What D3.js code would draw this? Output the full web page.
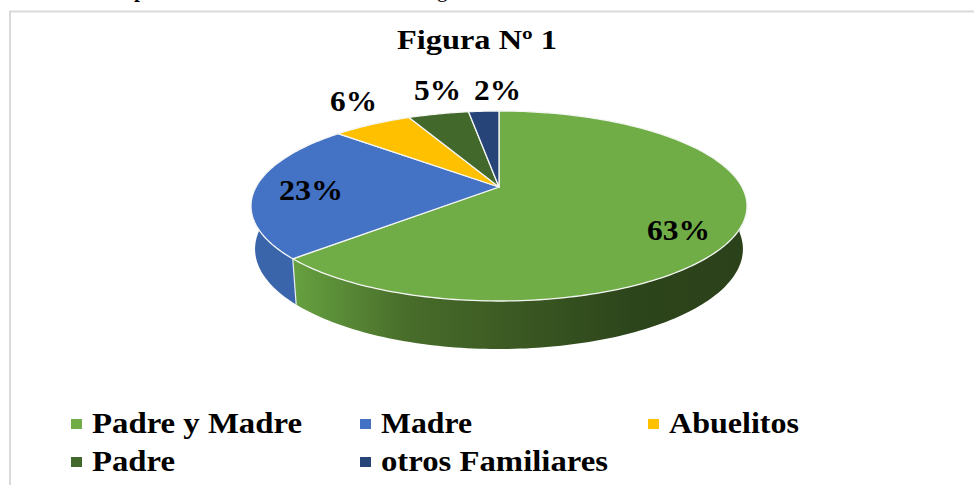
<!DOCTYPE html>
<html>
<head>
<meta charset="utf-8">
<script src="https://cdn.jsdelivr.net/npm/d3@7"></script>
<style>
    html, body { margin: 0; padding: 0; background: #fff; overflow: hidden; }
    text { font-family: "Liberation Serif", serif; font-weight: bold; fill: #000; }
</style>
</head>
<body>
<div id="content"></div>
<script>
const categories = ["Padre y Madre", "Madre", "Abuelitos", "Padre", "otros Familiares"];
const values = [63.1, 23.4, 6.3, 4.8, 2.4];
const colors = ["#70ad47", "#4472c4", "#ffc000", "#43682b", "#264478"];
const title = "Figura Nº 1";

const width = 974;
const height = 485;

// perspective of the tilted disc: k is the foreshortening, apex is where the slices meet
const k = 0.2;
const topFace = { x: 499, y: 187, rx: 243, ry: 91.2 };
const bottomFace = { x: 499, y: 229, rx: 239, ry: 96 };

function project(face, angle, r) {
    const u = Math.sin(angle) * r;
    const v = -Math.cos(angle) * r;
    const w = 1 - k * v;
    return [face.x + face.rx * u / w, face.y + face.ry * v / w];
}

function sample(a0, a1) {
    const n = Math.max(2, Math.ceil(Math.abs(a1 - a0) / 0.02));
    return d3.range(n + 1).map(i => a0 + (a1 - a0) * i / n);
}

const line = d3.line();

const svg = d3.select("#content")
    .append("svg")
    .attr("width", width)
    .attr("height", height)
    .style("display", "block");

const defs = svg.append("defs");
const wallGreen = defs.append("linearGradient")
    .attr("id", "wallGreen")
    .attr("gradientUnits", "userSpaceOnUse")
    .attr("x1", 297).attr("x2", 745).attr("y1", 0).attr("y2", 0);
[[0, "#659f3f"], [0.25, "#486c2a"], [0.5, "#3a5822"], [0.75, "#2d451b"], [1, "#2b411a"]].forEach(s => {
    wallGreen.append("stop").attr("offset", s[0]).attr("stop-color", s[1]);
});

// frame of the pasted chart
svg.append("path")
    .attr("d", "M10,485V11.5H974")
    .attr("fill", "none")
    .attr("stroke", "#d9d9d9")
    .attr("stroke-width", 2);

// what is left of the caption line above the chart
svg.append("text").attr("x", 134).attr("y", -3).style("font-size", "21px").text("p");
svg.append("text").attr("x", 437).attr("y", -3).style("font-size", "21px").style("font-weight", "normal").text("g");

svg.append("text")
    .attr("x", 397)
    .attr("y", 49)
    .attr("textLength", 160)
    .attr("lengthAdjust", "spacingAndGlyphs")
    .style("font-size", "27px")
    .text(title);

const pie = d3.pie().sort(null)(values);

// the wall is only seen from the right edge, round the front, to the left edge
const wallStart = 1.6;
const wallEnd = 4.72;
const walls = [
    { a0: wallStart, a1: pie[0].endAngle, fill: "url(#wallGreen)" },
    { a0: pie[0].endAngle, a1: wallEnd, fill: "#3a65ab" }
];

svg.append("g")
    .selectAll("path")
    .data(walls)
    .enter()
    .append("path")
    .attr("fill", d => d.fill)
    .attr("d", d => {
        const angles = sample(d.a0, d.a1);
        const pts = angles.map(a => project(topFace, a, 1))
            .concat(angles.slice().reverse().map(a => project(bottomFace, a, 1)));
        return line(pts) + "Z";
    });

// seam between the two walls
const seam = pie[0].endAngle;
svg.append("path")
    .attr("d", line([project(topFace, seam, 1), project(bottomFace, seam, 1)]))
    .attr("stroke", "#e8edf2")
    .attr("stroke-width", 1.2)
    .attr("fill", "none");

svg.append("g")
    .selectAll("path")
    .data(pie)
    .enter()
    .append("path")
    .attr("fill", (d, i) => colors[i])
    .attr("stroke", "#f4f6f4")
    .attr("stroke-width", 1.3)
    .attr("stroke-linejoin", "round")
    .attr("d", d => {
        const rim = sample(d.startAngle, d.endAngle).map(a => project(topFace, a, 1));
        return line([project(topFace, 0, 0)].concat(rim)) + "Z";
    });

// data labels, one place per slice
const labelX = [647, 279, 330, 414, 474];
const labelY = [240, 200, 111, 100, 100];
const labelLen = [63, 64, 47, 47, 47];
svg.append("g")
    .selectAll("text")
    .data(pie)
    .enter()
    .append("text")
    .attr("x", (d, i) => labelX[i])
    .attr("y", (d, i) => labelY[i])
    .attr("textLength", (d, i) => labelLen[i])
    .attr("lengthAdjust", "spacingAndGlyphs")
    .style("font-size", "29px")
    .text(d => d3.format(".0f")(d.value) + "%");

// legend
const legendX = [71, 360, 648, 71, 360];
const legendY = [433, 433, 433, 471, 471];
const legendLen = [210, 91, 130, 83, 227];
const legend = svg.append("g")
    .selectAll("g")
    .data(categories)
    .enter()
    .append("g")
    .attr("transform", (d, i) => "translate(" + legendX[i] + "," + legendY[i] + ")");
legend.append("rect")
    .attr("x", 0)
    .attr("y", -14)
    .attr("width", 11)
    .attr("height", 10)
    .attr("fill", (d, i) => colors[i]);
legend.append("text")
    .attr("x", 21)
    .attr("textLength", (d, i) => legendLen[i])
    .attr("lengthAdjust", "spacingAndGlyphs")
    .style("font-size", "30px")
    .text(d => d);
</script>
</body>
</html>
